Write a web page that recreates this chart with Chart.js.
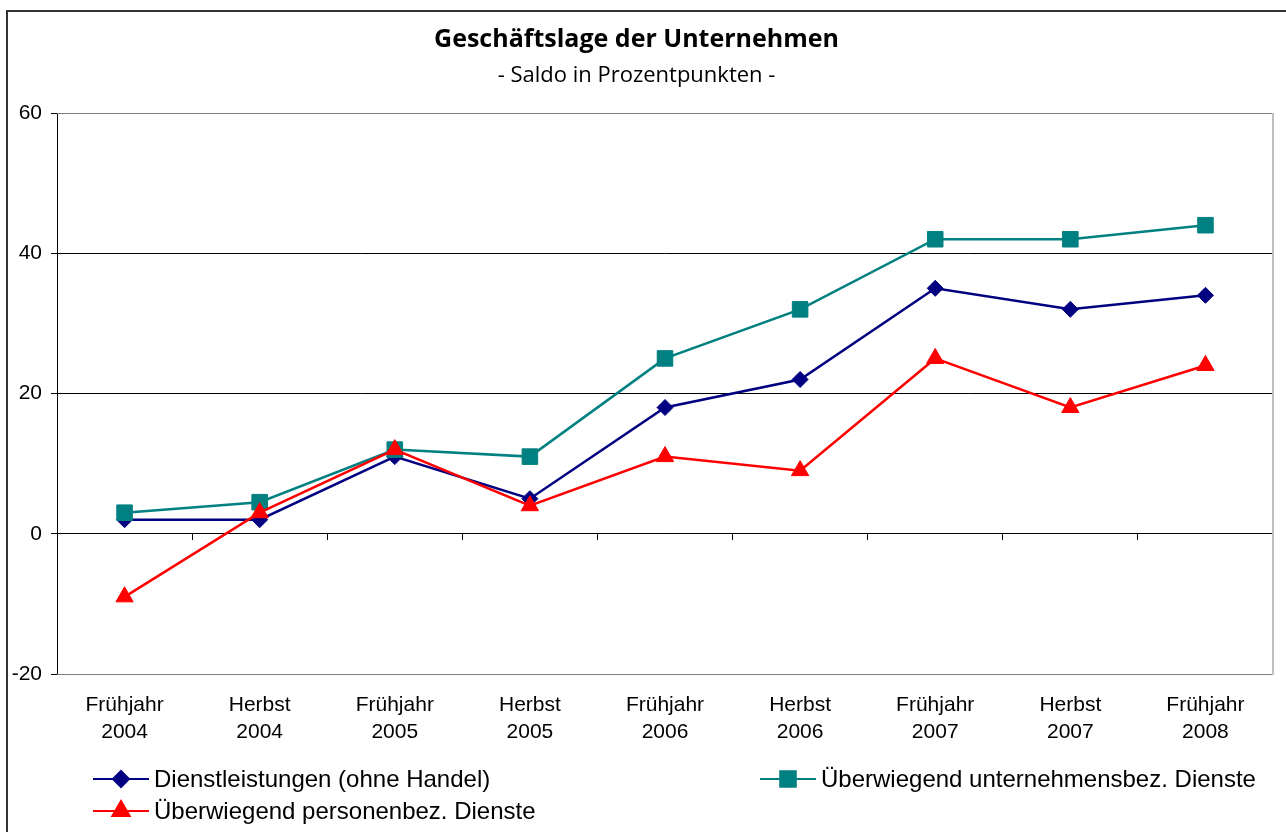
<!DOCTYPE html>
<html>
<head>
<meta charset="utf-8">
<script src="https://cdn.jsdelivr.net/npm/chart.js@4.4.1/dist/chart.umd.min.js"></script>
<style>
  html, body { margin: 0; padding: 0; background: #fff; }
  #wrap { position: relative; width: 1286px; height: 832px; }
</style>
</head>
<body>
<div id="wrap"><canvas id="c"></canvas></div>
<script>
// ---- data ----
const categories = [
  ['Frühjahr', '2004'], ['Herbst', '2004'], ['Frühjahr', '2005'],
  ['Herbst', '2005'], ['Frühjahr', '2006'], ['Herbst', '2006'],
  ['Frühjahr', '2007'], ['Herbst', '2007'], ['Frühjahr', '2008']
];
const dienstleistungen = [2, 2, 11, 5, 18, 22, 35, 32, 34];
const unternehmensbez = [3, 4.5, 12, 11, 25, 32, 42, 42, 44];
const personenbez = [-9, 3, 12, 4, 11, 9, 25, 18, 24];
const seriesNames = [
  'Dienstleistungen (ohne Handel)',
  'Überwiegend unternehmensbez. Dienste',
  'Überwiegend personenbez. Dienste'
];
const yMin = -20;
const yMax = 60;
const yStep = 20;
const titleText = 'Geschäftslage der Unternehmen';
const subtitleText = '- Saldo in Prozentpunkten -';

// ---- plugins ----
const framePlugin = {
  id: 'frame',
  beforeDraw(chart) {
    const ctx = chart.ctx;
    ctx.save();
    ctx.fillStyle = '#fff';
    ctx.fillRect(0, 0, chart.width, chart.height);
    ctx.strokeStyle = '#333';
    ctx.lineWidth = 2;
    ctx.beginPath();
    ctx.moveTo(7, chart.height + 5);
    ctx.lineTo(7, 11);
    ctx.lineTo(chart.width + 5, 11);
    ctx.stroke();
    ctx.restore();
  },
  beforeDatasetsDraw(chart) {
    const ctx = chart.ctx;
    const a = chart.chartArea;
    const l = Math.round(a.left), r = Math.round(a.right);
    const t = Math.round(a.top), b = Math.round(a.bottom);
    ctx.save();
    ctx.lineWidth = 1;
    ctx.strokeStyle = '#808080';
    ctx.beginPath();
    ctx.moveTo(l, t + 0.5); ctx.lineTo(r, t + 0.5);
    ctx.moveTo(l, b + 0.5); ctx.lineTo(r, b + 0.5);
    ctx.stroke();
    ctx.strokeStyle = '#c0c0c0';
    ctx.lineWidth = 2;
    ctx.beginPath();
    ctx.moveTo(r, t); ctx.lineTo(r, b + 1);
    ctx.stroke();
    ctx.restore();
  }
};

const legendPlugin = {
  id: 'customLegend',
  afterDraw(chart) {
    const ctx = chart.ctx;
    const slots = [{ x: 93, y: 779 }, { x: 760, y: 779 }, { x: 93, y: 811 }];
    chart.data.datasets.forEach((ds, i) => {
      const s = slots[i];
      ctx.save();
      ctx.strokeStyle = ds.borderColor;
      ctx.lineWidth = 2;
      ctx.beginPath();
      ctx.moveTo(s.x, s.y);
      ctx.lineTo(s.x + 56, s.y);
      ctx.stroke();
      ctx.fillStyle = ds.pointBackgroundColor;
      ctx.strokeStyle = ds.pointBorderColor;
      Chart.helpers.drawPoint(ctx, {
        pointStyle: ds.pointStyle,
        radius: ds.pointRadius,
        borderWidth: 1,
        rotation: 0
      }, s.x + 28, s.y);
      ctx.fillStyle = '#000';
      ctx.font = '24px "Liberation Sans", Arial, sans-serif';
      ctx.textBaseline = 'middle';
      ctx.textAlign = 'left';
      ctx.fillText(ds.label, s.x + 61, s.y + 1);
      ctx.restore();
    });
  }
};

const tickFont = { family: '"Liberation Sans", Arial, sans-serif', size: 21 };

new Chart(document.getElementById('c'), {
  type: 'line',
  data: {
    labels: categories,
    datasets: [
      {
        label: seriesNames[0],
        data: dienstleistungen,
        borderColor: '#000080',
        backgroundColor: '#000080',
        pointBackgroundColor: '#000080',
        pointBorderColor: '#000080',
        pointStyle: 'rectRot',
        pointRadius: 8,
        pointHoverRadius: 8,
        pointBorderWidth: 1,
        borderWidth: 2.5,
        tension: 0,
        order: 3
      },
      {
        label: seriesNames[1],
        data: unternehmensbez,
        borderColor: '#008080',
        backgroundColor: '#008080',
        pointBackgroundColor: '#008080',
        pointBorderColor: '#008080',
        pointStyle: 'rect',
        pointRadius: 11,
        pointHoverRadius: 11,
        pointBorderWidth: 1,
        borderWidth: 2.5,
        tension: 0,
        order: 2
      },
      {
        label: seriesNames[2],
        data: personenbez,
        borderColor: '#FF0000',
        backgroundColor: '#FF0000',
        pointBackgroundColor: '#FF0000',
        pointBorderColor: '#FF0000',
        pointStyle: 'triangle',
        pointRadius: 10,
        pointHoverRadius: 10,
        pointBorderWidth: 1,
        borderWidth: 2.5,
        tension: 0,
        order: 1
      }
    ]
  },
  options: {
    responsive: true,
    maintainAspectRatio: false,
    animation: false,
    events: [],
    layout: { padding: { left: 0, right: 13, top: 0, bottom: 0 } },
    plugins: {
      legend: { display: false },
      tooltip: { enabled: false },
      title: {
        display: true,
        text: titleText,
        color: '#000',
        font: { family: '"Open Sans", Lato, sans-serif', size: 25, weight: 'bold', lineHeight: 1.2 },
        padding: { top: 25, bottom: 7.8 }
      },
      subtitle: {
        display: true,
        text: subtitleText,
        color: '#000',
        font: { family: '"Open Sans", Lato, sans-serif', size: 22, weight: 'normal', lineHeight: 1.2 },
        padding: { top: 0, bottom: 23.8 }
      }
    },
    scales: {
      x: {
        type: 'category',
        position: 'bottom',
        offset: true,
        grid: { display: false, drawTicks: false },
        border: { display: false },
        ticks: {
          color: '#000',
          font: { ...tickFont, lineHeight: 1.29 },
          padding: 18,
          autoSkip: false,
          maxRotation: 0,
          minRotation: 0
        },
        afterFit(s) { s.height = 158; }
      },
      x2: {
        type: 'category',
        position: { y: 0 },
        offset: true,
        grid: {
          display: true,
          offset: true,
          drawOnChartArea: false,
          drawTicks: true,
          tickLength: 6,
          color: '#000',
          lineWidth: 1
        },
        border: { display: true, color: '#000', width: 1 },
        ticks: { display: false }
      },
      y: {
        type: 'linear',
        position: 'left',
        min: yMin,
        max: yMax,
        ticks: {
          stepSize: yStep,
          color: '#000',
          font: tickFont,
          padding: 9
        },
        grid: {
          color: (c) => (c.tick && (c.tick.value === yMax || c.tick.value === yMin)) ? 'rgba(0,0,0,0)' : '#000',
          tickColor: '#000',
          tickLength: 6,
          lineWidth: 1
        },
        border: { display: true, color: '#000', width: 1 },
        afterFit(s) { s.width = 57; }
      }
    }
  },
  plugins: [framePlugin, legendPlugin]
});
</script>
</body>
</html>
